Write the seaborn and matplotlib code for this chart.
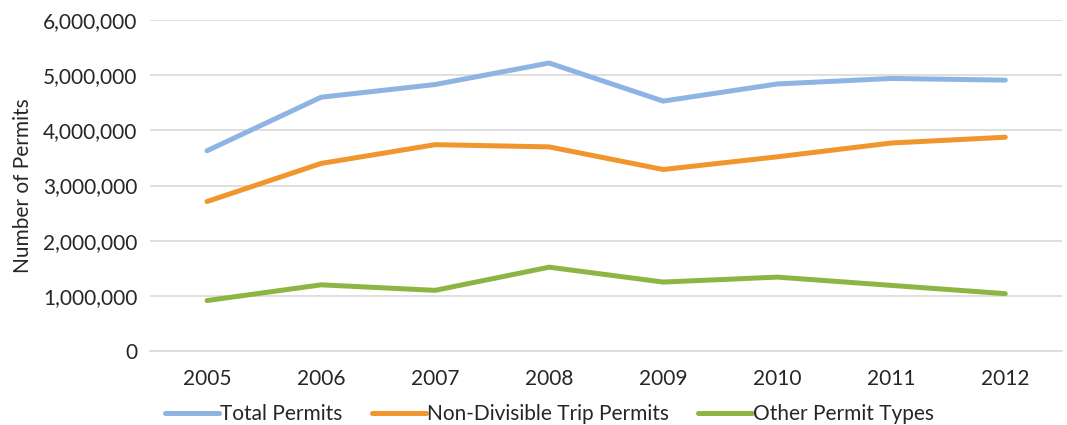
import pandas as pd
import numpy as np
import matplotlib.pyplot as plt
import matplotlib.ticker as mticker
import seaborn as sns

# Datos
years = ['2005', '2006', '2007', '2008', '2009', '2010', '2011', '2012']
total_permits = [3630000, 4600000, 4830000, 5220000, 4530000, 4840000, 4940000, 4910000]
non_divisible = [2710000, 3400000, 3740000, 3700000, 3290000, 3520000, 3770000, 3875000]
other_types = [915000, 1200000, 1100000, 1520000, 1250000, 1340000, 1190000, 1040000]

series_names = ['Total Permits', 'Non-Divisible Trip Permits', 'Other Permit Types']
colors = ['#8EB4E3', '#F0962C', '#8DB543']

df = pd.DataFrame({
    'year': years * 3,
    'permits': total_permits + non_divisible + other_types,
    'series': np.repeat(series_names, len(years)),
})

sns.set_theme(style='white')
plt.rcParams['font.family'] = ['Lato', 'DejaVu Sans']

fig = plt.figure(figsize=(10.67, 4.25), dpi=100)
ax = fig.add_axes([0.1406, 0.174, 0.855, 0.779])

sns.lineplot(data=df, x='year', y='permits', hue='series', palette=colors,
             linewidth=3.6, ax=ax, sort=False, legend=True)
for line in ax.lines:
    line.set_solid_capstyle('round')

ax.set_xlim(-0.5, 7.5)
ax.set_ylim(0, 6000000)
ax.yaxis.set_major_locator(mticker.MultipleLocator(1000000))
ax.yaxis.set_major_formatter(mticker.FuncFormatter(lambda v, p: f'{int(v):,}'))
ax.grid(axis='y', color='#D9D9D9', linewidth=1.2)
ax.set_axisbelow(True)
for s in ['top', 'right', 'left']:
    ax.spines[s].set_visible(False)
ax.spines['bottom'].set_color('#D9D9D9')
ax.spines['bottom'].set_linewidth(1.2)
ax.tick_params(axis='y', length=0, labelsize=15, colors='#262626', pad=9)
ax.tick_params(axis='x', length=0, labelsize=15, colors='#262626', pad=13)
ax.set_xlabel('')
ax.set_ylabel('Number of Permits', fontsize=15, color='#262626', labelpad=7)

handles, labels = ax.get_legend_handles_labels()
ax.legend(handles, labels, loc='lower center', bbox_to_anchor=(0.515, -0.028),
          bbox_transform=fig.transFigure, ncol=3, frameon=False, fontsize=15,
          handlelength=2.6, handletextpad=0.05, columnspacing=1.4,
          borderpad=0.1, labelcolor='#262626')

fig.savefig('out.png', dpi=100)
